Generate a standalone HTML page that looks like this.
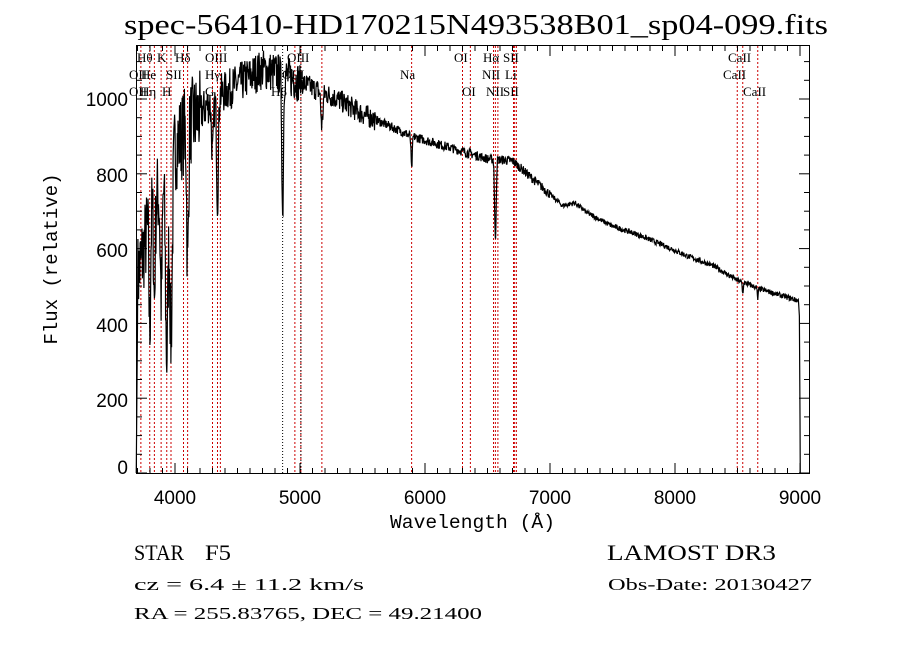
<!DOCTYPE html>
<html><head><meta charset="utf-8"><style>html,body{margin:0;padding:0;background:#fff}svg{display:block}</style></head>
<body>
<svg id="s" width="900" height="649" xmlns="http://www.w3.org/2000/svg" font-family="Liberation Serif, serif">
<rect width="900" height="649" fill="#fff"/>
<text x="124" y="34" font-size="28" textLength="704" lengthAdjust="spacingAndGlyphs">spec-56410-HD170215N493538B01_sp04-099.fits</text>
<g id="lines"></g>
<polyline id="spec" fill="none" stroke="#000" stroke-width="1.2"/>
<rect x="136.5" y="45.5" width="673" height="428" fill="none" stroke="#000" stroke-width="1"/>
<g id="ticks" stroke="#000" stroke-width="1"></g>
<g font-size="19" font-family="Liberation Sans, sans-serif" text-anchor="middle">
<text x="175" y="504">4000</text><text x="300" y="504">5000</text><text x="425" y="504">6000</text><text x="550" y="504">7000</text><text x="675" y="504">8000</text><text x="800" y="504">9000</text>
</g>
<g font-size="19" font-family="Liberation Sans, sans-serif" text-anchor="end">
<text x="128" y="106">1000</text><text x="128" y="182">800</text><text x="128" y="257">600</text><text x="128" y="332">400</text><text x="128" y="407">200</text><text x="128" y="474">0</text>
</g>
<text x="390" y="528" font-size="19" font-family="Liberation Mono, monospace" textLength="165" lengthAdjust="spacingAndGlyphs">Wavelength (Å)</text>
<text transform="translate(57,259) rotate(-90)" font-size="19" font-family="Liberation Mono, monospace" text-anchor="middle">Flux (relative)</text>
<g font-size="13" fill="#000">
<text x="137" y="62">Hθ</text><text x="157" y="62">K</text><text x="175" y="62">Hδ</text><text x="205" y="62">OIII</text><text x="287" y="62">OIII</text>
<text x="129" y="79">OII</text><text x="141" y="79">He</text><text x="166" y="79">SII</text><text x="205" y="79">Hγ</text><text x="282" y="79">OIII</text><text x="400" y="79">Na</text>
<text x="129" y="96">OII</text><text x="140" y="96">Hη</text><text x="162" y="96">H</text><text x="205" y="96">G</text><text x="271" y="96">Hβ</text>
<text x="454" y="62">OI</text><text x="483" y="62">Hα</text><text x="503" y="62">SII</text><text x="728" y="62">CaII</text>
<text x="482" y="79">NII</text><text x="505" y="79">Li</text><text x="723" y="79">CaII</text>
<text x="462" y="96">OI</text><text x="486" y="96">NII</text><text x="503" y="96">SII</text><text x="743" y="96">CaII</text>
</g>
<g font-size="22"><text x="134" y="560" textLength="50" lengthAdjust="spacingAndGlyphs">STAR</text><text x="205" y="560" textLength="26" lengthAdjust="spacingAndGlyphs">F5</text><text x="607" y="560" textLength="169" lengthAdjust="spacingAndGlyphs">LAMOST DR3</text></g>
<g font-size="17"><text x="134" y="590" textLength="230" lengthAdjust="spacingAndGlyphs">cz = 6.4 ± 11.2 km/s</text><text x="608" y="590" textLength="204" lengthAdjust="spacingAndGlyphs">Obs-Date: 20130427</text><text x="134" y="619" textLength="348" lengthAdjust="spacingAndGlyphs">RA = 255.83765, DEC =  49.21400</text></g>
</svg>
<script>
var NS="http://www.w3.org/2000/svg";
function X(l){return 175+(l-4000)*0.125;}
function Y(f){return 473-f*0.374;}
var lg=document.getElementById('lines');
var red=[3727,3798,3835,3889,3934,3968,4068,4101,4300,4340,4363,4959,5007,5175,5893,6300,6363,6548,6563,6583,6708,6717,6731,8498,8542,8662];
var blk=[4861,5007];
function vl(l,c,d){var e=document.createElementNS(NS,'line');e.setAttribute('x1',X(l));e.setAttribute('x2',X(l));e.setAttribute('y1',46);e.setAttribute('y2',473);e.setAttribute('stroke',c);e.setAttribute('stroke-dasharray',d);lg.appendChild(e);}
red.forEach(function(l){vl(l,'#c00','2,2');});
blk.forEach(function(l){vl(l,'#000','1,2');});
var tg=document.getElementById('ticks');
function tk(x1,y1,x2,y2){var e=document.createElementNS(NS,'line');e.setAttribute('x1',x1);e.setAttribute('y1',y1);e.setAttribute('x2',x2);e.setAttribute('y2',y2);tg.appendChild(e);}
for(var l=3700;l<=9000;l+=100){var x=X(l),m=l%1000==0?10:5;tk(x,473,x,473-m);tk(x,46,x,46+m);}
for(var f=0;f<=1100;f+=50){var y=Y(f),m2=f%200==0?10:5;tk(137,y,137+m2,y);tk(809,y,809-m2,y);}
var K=[[3700,520],[3800,680],[3900,780],[4000,870],[4100,930],[4200,960],[4300,1000],[4500,1040],[4700,1080],[4900,1060],[5100,1030],[5300,1000],[5500,960],[5700,930],[5900,900],[6100,880],[6300,860],[6500,840],[6700,835],[6900,775],[7100,715],[7200,722],[7300,695],[7500,660],[7700,638],[7900,610],[8100,580],[8300,555],[8500,515],[8700,490],[8990,460]];
function cont(l){for(var i=0;i<K.length-1;i++){if(l<=K[i+1][0]){var t=(l-K[i][0])/(K[i+1][0]-K[i][0]);return K[i][1]+t*(K[i+1][1]-K[i][1]);}}return 460;}
var abs=[[3934,500,10],[3968,480,10],[3890,300,8],[3835,250,6],[3798,300,6],[4101,380,7],[4340,280,7],[4300,150,8],[4861,380,6],[5175,90,8],[5893,90,5],[6563,220,6],[8542,30,4],[8662,30,4]];
var seed=7;function rnd(){seed=(seed*16807)%2147483647;return seed/2147483647-0.5;}
var pts=[X(3690)+','+Y(0)];
for(var l2=3700;l2<=8990;l2+=3){var fv=cont(l2);for(var j=0;j<abs.length;j++){var a=abs[j];var z=(l2-a[0])/a[2];fv-=a[1]*Math.exp(-z*z/2);}
 var amp=l2<4200?240:l2<5000?110:l2<5600?60:l2<7000?25:14;fv+=rnd()*amp;pts.push(X(l2).toFixed(1)+','+Y(Math.max(fv,0)).toFixed(1));}
pts.push(X(8995)+','+Y(420),X(9000)+','+Y(150),X(9002)+','+Y(0));
document.getElementById('spec').setAttribute('points',pts.join(' '));
</script>
</body></html>
